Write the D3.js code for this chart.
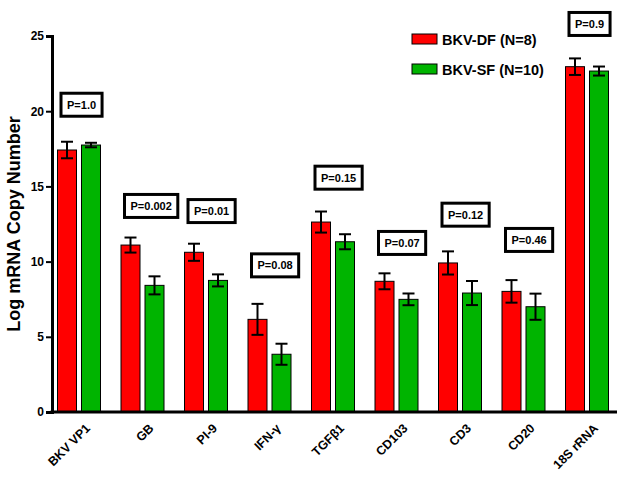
<!DOCTYPE html>
<html>
<head>
<meta charset="utf-8">
<script src="https://cdn.jsdelivr.net/npm/d3@7/dist/d3.min.js"></script>
<style>
  html, body { margin: 0; padding: 0; background: #fff; }
  text { font-family: "Liberation Sans", Arial, sans-serif; font-weight: bold; }
</style>
</head>
<body>
<div id="chart"></div>
<script>
// ---- data ----
const categories = ['BKV VP1', 'GB', 'PI-9', 'IFN-\u03b3', 'TGF\u03b21', 'CD103', 'CD3', 'CD20', '18S rRNA']
const seriesNames = ['BKV-DF (N=8)', 'BKV-SF (N=10)']
const dfMean = [17.42, 11.1, 10.62, 6.16, 12.63, 8.69, 9.91, 8.02, 22.96]
const dfErr  = [0.55, 0.5, 0.57, 1.03, 0.7, 0.53, 0.77, 0.75, 0.55]
const sfMean = [17.75, 8.42, 8.75, 3.84, 11.32, 7.49, 7.91, 7.0, 22.67]
const sfErr  = [0.15, 0.6, 0.4, 0.7, 0.5, 0.39, 0.8, 0.87, 0.3]
const pLabels = ['P=1.0', 'P=0.002', 'P=0.01', 'P=0.08', 'P=0.15', 'P=0.07', 'P=0.12', 'P=0.46', 'P=0.9']
const pLabelY = [20.43, 13.7, 13.36, 9.75, 15.58, 11.24, 13.12, 11.44, 25.8]   // in data units
const yTicks = [0, 5, 10, 15, 20, 25]

const colors = ['#ff0000', '#00b400']
const W = 629, H = 480

const svg = d3.select('#chart').append('svg')
  .attr('width', W).attr('height', H)

// scales
const y = d3.scaleLinear().domain([0, 25]).range([412, 36])
const x = d3.scaleBand().domain(categories).range([47.25, 618.75]).padding(0)
const xSub = d3.scaleBand().domain([0, 1]).range([0, 43]).paddingInner(0.2083).paddingOuter(0)

const rows = categories.map((c, i) => ({
  cat: c,
  vals: [
    { s: 0, mean: dfMean[i], err: dfErr[i] },
    { s: 1, mean: sfMean[i], err: sfErr[i] }
  ]
}))

// bars
const groups = svg.append('g').selectAll('g')
  .data(rows).join('g')
  .attr('transform', d => `translate(${x(d.cat) + x.bandwidth() / 2 - 21.5},0)`)

groups.selectAll('rect')
  .data(d => d.vals).join('rect')
  .attr('x', d => xSub(d.s))
  .attr('width', xSub.bandwidth())
  .attr('y', d => y(d.mean))
  .attr('height', d => y(0) - y(d.mean))
  .attr('fill', d => colors[d.s])
  .attr('stroke', '#000').attr('stroke-width', 1)

// error bars
const cx = d => xSub(d.s) + xSub.bandwidth() / 2
const eb = groups.selectAll('g.err')
  .data(d => d.vals).join('g').attr('class', 'err')
  .attr('stroke', '#000').attr('stroke-width', 2)
eb.append('line')
  .attr('x1', cx).attr('x2', cx)
  .attr('y1', d => y(d.mean + d.err)).attr('y2', d => y(d.mean - d.err))
eb.append('line')
  .attr('x1', d => cx(d) - 6).attr('x2', d => cx(d) + 6)
  .attr('y1', d => y(d.mean + d.err)).attr('y2', d => y(d.mean + d.err))
eb.append('line')
  .attr('x1', d => cx(d) - 6).attr('x2', d => cx(d) + 6)
  .attr('y1', d => y(d.mean - d.err)).attr('y2', d => y(d.mean - d.err))

// y axis
svg.append('g')
  .attr('transform', 'translate(52,0)')
  .call(d3.axisLeft(y).tickValues(yTicks).tickSize(6).tickPadding(2))
  .call(g => {
    g.select('.domain').attr('stroke', '#000').attr('stroke-width', 3)
    g.selectAll('.tick line').attr('stroke', '#000').attr('stroke-width', 2)
    g.selectAll('.tick text')
      .attr('fill', '#000').attr('font-size', '12px')
      .attr('font-family', '"Liberation Sans", Arial, sans-serif').attr('font-weight', 'bold')
  })

// x axis line
svg.append('line')
  .attr('x1', 50.5).attr('x2', 617).attr('y1', y(0)).attr('y2', y(0))
  .attr('stroke', '#000').attr('stroke-width', 3)

// x labels
svg.append('g').selectAll('text')
  .data(categories).join('text')
  .attr('transform', d => `translate(${x(d) + x.bandwidth() / 2 + 12},429) rotate(-45)`)
  .attr('text-anchor', 'end')
  .attr('font-size', '12.5px')
  .attr('fill', '#000')
  .text(d => d)

// y axis title
svg.append('text')
  .attr('transform', 'translate(20,224) rotate(-90)')
  .attr('text-anchor', 'middle')
  .attr('font-size', '18px')
  .attr('fill', '#000')
  .text('Log mRNA Copy Number')

// P value boxes
const pg = svg.append('g').selectAll('g')
  .data(categories).join('g')
  .attr('transform', (d, i) => `translate(${x(d) + x.bandwidth() / 2 - 18},${y(pLabelY[i])})`)
pg.append('text')
  .attr('x', 6).attr('y', 4)
  .attr('font-size', '11px')
  .attr('fill', '#000')
  .text((d, i) => pLabels[i])
pg.insert('rect', 'text')
  .attr('x', 0).attr('y', -11.5)
  .attr('height', 23)
  .attr('width', function () { return this.parentNode.querySelector('text').getComputedTextLength() + 12 })
  .attr('fill', '#fff').attr('stroke', '#000').attr('stroke-width', 3)

// legend
const lg = svg.append('g').selectAll('g')
  .data(seriesNames).join('g')
  .attr('transform', (d, i) => `translate(412,${34 + i * 30})`)
lg.append('rect')
  .attr('width', 25).attr('height', 10)
  .attr('fill', (d, i) => colors[i]).attr('stroke', '#000').attr('stroke-width', 1)
lg.append('text')
  .attr('x', 30).attr('y', 11)
  .attr('font-size', '14.5px')
  .attr('fill', '#000')
  .text(d => d)
</script>
</body>
</html>
